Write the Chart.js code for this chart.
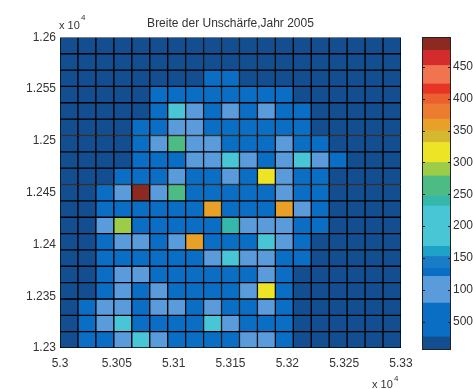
<!DOCTYPE html>
<html lang="de">
<head>
<meta charset="utf-8">
<title>Breite der Unschärfe, Jahr 2005</title>
<script src="https://cdn.jsdelivr.net/npm/chart.js@4.4.1/dist/chart.umd.min.js"></script>
<style>
    body { margin: 0; background: #fff; }
    #wrap { position: relative; width: 473px; height: 389px; }
    #wrap canvas { position: absolute; left: 0; top: 0; }
</style>
</head>
<body>
<div id="wrap">
    <canvas id="heat" width="473" height="389"></canvas>
    <canvas id="barre" width="473" height="389"></canvas>
</div>
<script>
// Axes (unités de 10^4)
const xMin = 5.3, xMax = 5.33;
const yMin = 1.23, yMax = 1.26;
const xTicks = [5.3, 5.305, 5.31, 5.315, 5.32, 5.325, 5.33];
const yTicks = [1.23, 1.235, 1.24, 1.245, 1.25, 1.255, 1.26];
const cbTicks = [500, 1000, 1500, 2000, 2500, 3000, 3500, 4000, 4500];
const cbMin = 55, cbMax = 4970;

// Breite der Unschärfe, de la ligne du haut (1.26) vers le bas (1.23)
const widths = [
    [150, 150, 150, 150, 150, 150, 150, 150, 150, 150, 150, 150, 150, 150, 150, 150, 150, 150, 150],
    [150, 150, 150, 150, 150, 150, 150, 150, 150, 150, 150, 150, 150, 150, 150, 150, 150, 150, 150],
    [150, 150, 150, 150, 150, 150, 150, 150, 500, 500, 150, 150, 150, 150, 150, 150, 150, 150, 150],
    [150, 150, 150, 150, 150, 500, 500, 500, 500, 500, 500, 500, 500, 150, 150, 150, 150, 150, 150],
    [150, 150, 150, 150, 150, 500, 2000, 1000, 500, 1000, 500, 1000, 500, 500, 150, 150, 150, 150, 150],
    [150, 150, 150, 150, 500, 500, 1000, 1000, 500, 500, 500, 500, 500, 500, 150, 150, 150, 150, 150],
    [150, 150, 150, 150, 500, 1000, 2600, 1000, 1000, 500, 500, 500, 1000, 500, 500, 150, 150, 150, 150],
    [150, 150, 150, 150, 500, 500, 500, 1000, 1000, 1950, 1000, 500, 1000, 1950, 1000, 500, 150, 150, 150],
    [150, 150, 150, 500, 500, 500, 1000, 500, 500, 1000, 500, 3150, 1000, 500, 500, 150, 150, 150, 150],
    [150, 150, 500, 1000, 4850, 1000, 2600, 500, 500, 500, 500, 500, 1000, 500, 500, 150, 150, 150, 150],
    [150, 150, 500, 500, 500, 500, 500, 500, 3600, 500, 500, 500, 3600, 1000, 500, 150, 150, 150, 150],
    [150, 150, 1000, 2850, 500, 500, 500, 500, 500, 2400, 1000, 1000, 1000, 500, 500, 150, 150, 150, 150],
    [150, 150, 500, 1000, 1000, 500, 1000, 3600, 500, 500, 500, 1800, 1000, 500, 150, 150, 150, 150, 150],
    [150, 150, 500, 500, 500, 500, 500, 500, 1000, 1950, 1000, 1000, 500, 500, 150, 150, 150, 150, 150],
    [150, 150, 500, 1000, 1000, 500, 500, 500, 500, 500, 500, 1000, 500, 150, 150, 150, 150, 150, 150],
    [150, 150, 500, 1000, 500, 1000, 500, 500, 500, 500, 1000, 3150, 500, 150, 150, 150, 150, 150, 150],
    [150, 500, 1000, 1000, 500, 1000, 1000, 500, 1000, 500, 500, 1000, 500, 150, 150, 150, 150, 150, 150],
    [150, 500, 1000, 2100, 500, 500, 500, 500, 2000, 1000, 500, 500, 500, 150, 150, 150, 150, 150, 150],
    [150, 500, 500, 1000, 1950, 1000, 500, 500, 500, 500, 1000, 1000, 500, 150, 150, 150, 150, 150, 150]
];

// Palette (bornes et couleurs des bandes de la barre)
const cmapEdges = [0, 260, 790, 1210, 1340, 1525, 1683, 2314, 2472, 2787, 3000, 3314, 3497, 3681, 3918, 4076, 4233, 4522, 4759, 5000];
const cmapColors = ['#124e90', '#0a6ec4', '#5a9bdc', '#0a6ec4', '#1a7cc4', '#1ea2c8', '#48c6d6', '#34b8ac',
    '#4cbc84', '#9ccc48', '#ece424', '#d4b830', '#e8a028', '#ec7c30', '#ec6030', '#e83424', '#f07450',
    '#d42c2c', '#8c2a22'];

const FONT = 'Liberation Sans, Arial, sans-serif';
const TEXT = '#333';

function couleur(v) {
    for (let i = 0; i < cmapColors.length; i++) {
        if (v < cmapEdges[i + 1]) return cmapColors[i];
    }
    return cmapColors[cmapColors.length - 1];
}

// Carte de chaleur
const nRows = widths.length;
const dy = (yMax - yMin) / nRows;
const heatSets = widths.map((row, r) => ({
    data: row.map(() => [yMax - (r + 1) * dy, yMax - r * dy]),
    backgroundColor: row.map(couleur),
    borderColor: '#000',
    borderWidth: 1,
    borderSkipped: false,
    barPercentage: 1,
    categoryPercentage: 1,
    grouped: false
}));

const exposant = {
    id: 'exposant',
    afterDraw(chart) {
        const ctx = chart.ctx;
        ctx.save();
        ctx.fillStyle = TEXT;
        ctx.font = '11px ' + FONT;
        ctx.fillText('x 10', 59, 29);
        ctx.fillText('x 10', 372, 388);
        ctx.font = '8px ' + FONT;
        ctx.fillText('4', 81, 20);
        ctx.fillText('4', 394, 381);
        ctx.restore();
    }
};

new Chart(document.getElementById('heat'), {
    type: 'bar',
    data: { labels: widths[0].map((_, i) => i), datasets: heatSets },
    options: {
        responsive: false,
        animation: false,
        layout: { padding: { left: 0, right: 72, top: 0, bottom: 0 } },
        plugins: {
            legend: { display: false },
            tooltip: { enabled: false },
            title: {
                display: true,
                text: 'Breite der Unschärfe,Jahr 2005',
                fullSize: false,
                color: TEXT,
                font: { family: FONT, size: 12, weight: 'normal' },
                padding: { top: 16, bottom: 7 }
            }
        },
        scales: {
            x: { type: 'category', display: false },
            xt: {
                type: 'linear',
                position: 'bottom',
                offset: false,
                min: xMin,
                max: xMax,
                grid: { display: false, drawTicks: false, offset: false },
                border: { display: false },
                afterBuildTicks: s => { s.ticks = xTicks.map(v => ({ value: v })); },
                ticks: { callback: v => String(v), color: TEXT, font: { family: FONT, size: 12 }, padding: 8, maxRotation: 0, autoSkip: false },
                afterFit: s => { s.height = 41; }
            },
            y: {
                type: 'linear',
                min: yMin,
                max: yMax,
                grid: { display: false, drawTicks: false },
                border: { display: false },
                afterBuildTicks: s => { s.ticks = yTicks.map(v => ({ value: v })); },
                ticks: { callback: v => String(v), color: TEXT, font: { family: FONT, size: 12 }, padding: 4, autoSkip: false },
                afterFit: s => { s.width = 60; }
            }
        }
    },
    plugins: [exposant]
});

// Barre de couleurs
const cadre = {
    id: 'cadre',
    afterDraw(chart) {
        const { ctx, chartArea: a } = chart;
        const ys = chart.scales.y;
        ctx.save();
        ctx.strokeStyle = '#222';
        ctx.lineWidth = 1;
        ctx.strokeRect(a.left + 0.5, a.top + 0.5, a.right - a.left - 1, a.bottom - a.top - 1);
        cbTicks.forEach(v => {
            const p = Math.round(ys.getPixelForValue(v)) + 0.5;
            ctx.beginPath();
            ctx.moveTo(a.left, p); ctx.lineTo(a.left + 3, p);
            ctx.moveTo(a.right - 3, p); ctx.lineTo(a.right, p);
            ctx.stroke();
        });
        ctx.restore();
    }
};

new Chart(document.getElementById('barre'), {
    type: 'bar',
    data: {
        labels: [''],
        datasets: cmapColors.map((c, i) => ({
            data: [[Math.max(cmapEdges[i], cbMin), Math.min(cmapEdges[i + 1], cbMax)]],
            backgroundColor: c,
            borderWidth: 0,
            barPercentage: 1,
            categoryPercentage: 1,
            grouped: false
        }))
    },
    options: {
        responsive: false,
        animation: false,
        layout: { padding: { left: 422, right: 0, top: 37, bottom: 39 } },
        plugins: { legend: { display: false }, tooltip: { enabled: false } },
        scales: {
            x: { display: false },
            y: {
                position: 'right',
                min: cbMin,
                max: cbMax,
                grid: { display: false, drawTicks: false },
                border: { display: false },
                afterBuildTicks: s => { s.ticks = cbTicks.map(v => ({ value: v })); },
                ticks: { callback: v => String(v), color: TEXT, font: { family: FONT, size: 12 }, padding: 2, autoSkip: false },
                afterFit: s => { s.width = 22; }
            }
        }
    },
    plugins: [cadre]
});
</script>
</body>
</html>
